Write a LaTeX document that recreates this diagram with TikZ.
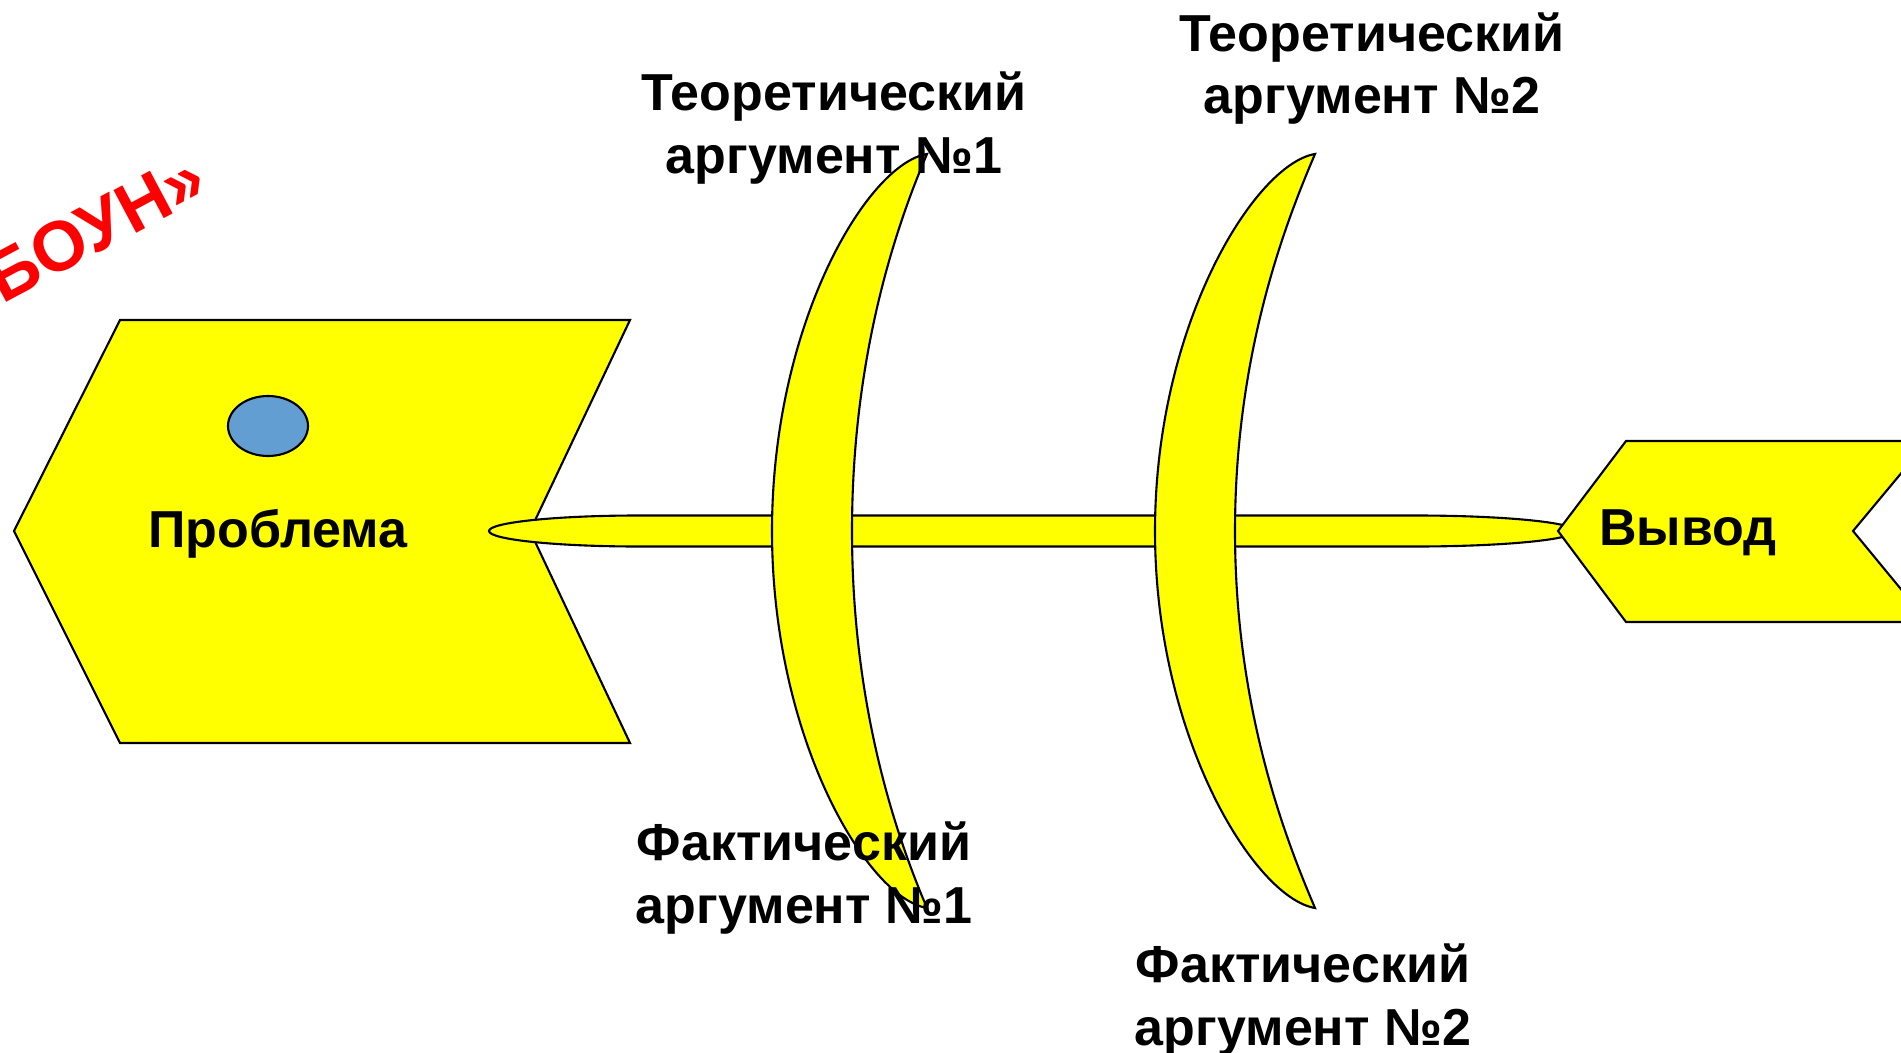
\documentclass[tikz,border=0pt]{standalone}
\usepackage{fontspec}
\setmainfont{Liberation Sans}
\definecolor{Camarelo}{RGB}{255,255,0}
\definecolor{Cazul}{RGB}{99,158,210}
\definecolor{Cvermelho}{RGB}{255,0,0}

\begin{document}
\begin{tikzpicture}[x=0.1mm, y=0.1mm,
      peixe/.style={draw=black, fill=Camarelo, line width=0.6pt},
      rotulo/.style={font=\fontsize{14.8}{17.9}\selectfont\bfseries,
                     align=center, inner sep=0pt, anchor=base}]
    \useasboundingbox (0,0) rectangle (1901,-1053);
    \clip (0,0) rectangle (1901,-1053);
    % Cabeca
    \draw[peixe] (14,-531) -- (120,-320) -- (630,-320) -- (530,-531)
                 -- (630,-743) -- (120,-743) -- cycle;
    \draw[black, fill=Cazul, line width=0.6pt] (268,-426) ellipse [x radius=40, y radius=30];
    % Espinha
    \draw[peixe] (639,-515.5) -- (1415,-515.5)
                 arc[start angle=90, end angle=-90, x radius=160, y radius=15.5]
                 -- (639,-546.5)
                 arc[start angle=270, end angle=90, x radius=150, y radius=15.5] -- cycle;
    % Costelas
    \draw[peixe] (927,-154) .. controls (867,-164) and (772,-324) .. (772,-531)
                 .. controls (772,-738) and (867,-898) .. (927,-908)
                 .. controls (897,-838) and (852,-708) .. (852,-531)
                 .. controls (852,-354) and (897,-224) .. (927,-154) -- cycle;
    \draw[peixe] (1315,-154) .. controls (1255,-164) and (1155,-324) .. (1155,-531)
                 .. controls (1155,-738) and (1255,-898) .. (1315,-908)
                 .. controls (1285,-838) and (1235,-708) .. (1235,-531)
                 .. controls (1235,-354) and (1285,-224) .. (1315,-154) -- cycle;
    % Cauda
    \draw[peixe] (1558,-531) -- (1626,-441) -- (1928,-441) -- (1853,-531)
                 -- (1928,-622) -- (1626,-622) -- cycle;
    % Textos
    \node[rotulo] (problema) at (278,-547) {Проблема};
    \node[rotulo] (vyvod) at (1688,-545) {Вывод};
    \node[rotulo] (teo1) at (834,-173) {Теоретический\\аргумент №1};
    \node[rotulo] (teo2) at (1372,-114) {Теоретический\\аргумент №2};
    \node[rotulo] (fakt1) at (804,-923) {Фактический\\аргумент №1};
    \node[rotulo] (fakt2) at (1303,-1045) {Фактический\\аргумент №2};
    \node[font=\fontsize{20}{23}\selectfont\bfseries, text=Cvermelho,
          inner sep=0pt, anchor=base east, rotate=28] (titulo) at (212,-193) {«ФИШБОУН»};
  \end{tikzpicture}
\end{document}
